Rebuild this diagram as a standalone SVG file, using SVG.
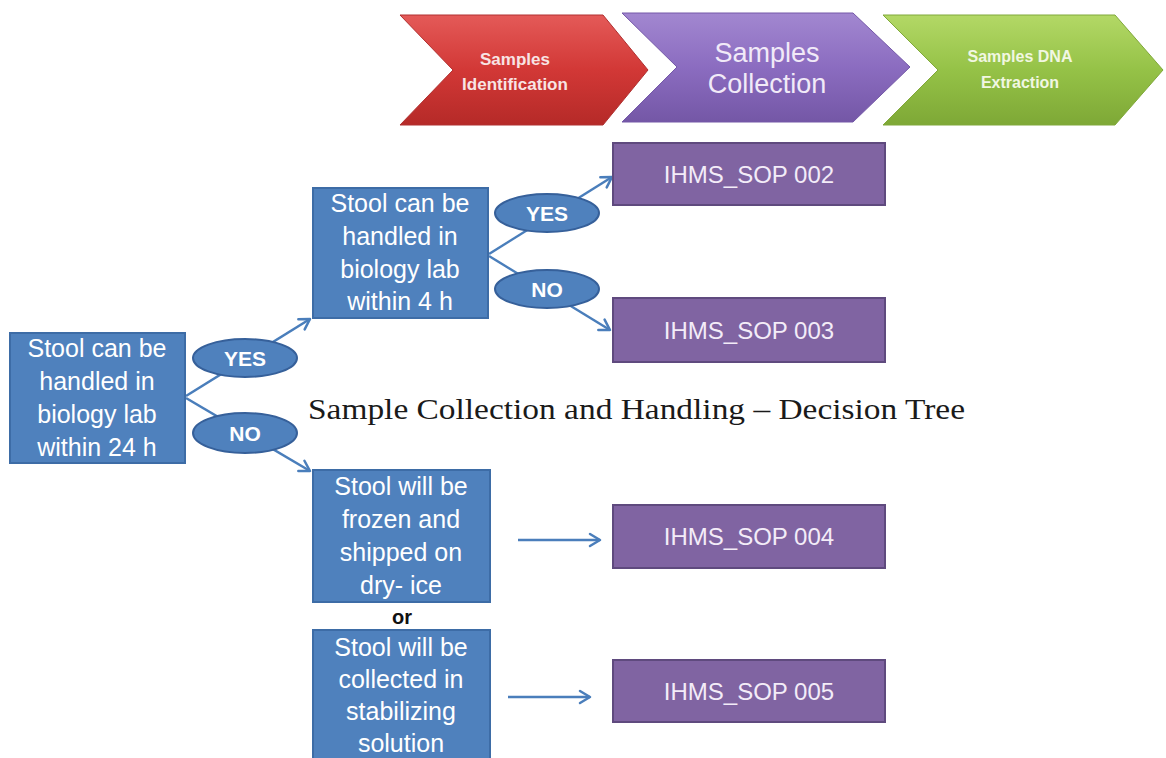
<svg xmlns="http://www.w3.org/2000/svg" width="1166" height="758" viewBox="0 0 1166 758">
<defs>
<linearGradient id="gRed" x1="0" y1="0" x2="0" y2="1">
<stop offset="0" stop-color="#e45a58"/><stop offset="0.5" stop-color="#d23836"/><stop offset="1" stop-color="#b52a28"/>
</linearGradient>
<linearGradient id="gPur" x1="0" y1="0" x2="0" y2="1">
<stop offset="0" stop-color="#a287d0"/><stop offset="0.5" stop-color="#8b6cc0"/><stop offset="1" stop-color="#7457a6"/>
</linearGradient>
<linearGradient id="gGrn" x1="0" y1="0" x2="0" y2="1">
<stop offset="0" stop-color="#b3d866"/><stop offset="0.5" stop-color="#95c247"/><stop offset="1" stop-color="#7ea836"/>
</linearGradient>
<marker id="arr" markerUnits="userSpaceOnUse" markerWidth="16" markerHeight="16" refX="12" refY="8" orient="auto">
<path d="M2,2 L12,8 L2,14" fill="none" stroke="#4a7ebb" stroke-width="2.5" stroke-linecap="round" stroke-linejoin="round"/>
</marker>
<style>
.bbox{fill:#4f81bd;stroke:#3d6ca6;stroke-width:2}
.pbox{fill:#8064a2;stroke:#5f4a7e;stroke-width:2}
.ell{fill:#4f81bd;stroke:#36609a;stroke-width:2}
.bt{font-family:"Liberation Sans",Arial,sans-serif;font-size:25px;fill:#ffffff;text-anchor:middle}
.pt{font-family:"Liberation Sans",Arial,sans-serif;font-size:24px;fill:#f3ecf8;text-anchor:middle}
.et{font-family:"Liberation Sans",Arial,sans-serif;font-size:21px;font-weight:bold;fill:#ffffff;text-anchor:middle}
.ct{font-family:"Liberation Sans",Arial,sans-serif;text-anchor:middle}
.conn{fill:none;stroke:#4a7ebb;stroke-width:2.5}
</style>
</defs>
<rect width="1166" height="758" fill="#ffffff"/>

<g id="chev-identification">
<polygon points="400,15 603,15 648,70 603,125 400,125 453,70" fill="url(#gRed)" stroke="#b03030" stroke-width="1"/>
<text class="ct" x="515" y="65" font-size="17" font-weight="bold" fill="#f8e4e4">Samples</text>
<text class="ct" x="515" y="90" font-size="17" font-weight="bold" fill="#f8e4e4">Identification</text>
</g>
<g id="chev-collection">
<polygon points="622,13 853,13 910,67 853,122 622,122 677,67" fill="url(#gPur)" stroke="#7458a8" stroke-width="1"/>
<text class="ct" x="767" y="62" font-size="27" fill="#f1eaf8">Samples</text>
<text class="ct" x="767" y="93" font-size="27" fill="#f1eaf8">Collection</text>
</g>
<g id="chev-extraction">
<polygon points="883,15 1115,15 1163,70 1115,125 883,125 938,70" fill="url(#gGrn)" stroke="#80a83a" stroke-width="1"/>
<text class="ct" x="1020" y="62" font-size="16" font-weight="bold" fill="#f1f7e2">Samples DNA</text>
<text class="ct" x="1020" y="88" font-size="16" font-weight="bold" fill="#f1f7e2">Extraction</text>
</g>

<g id="connectors">
<line class="conn" x1="186" y1="396" x2="310" y2="319" marker-end="url(#arr)"/>
<line class="conn" x1="186" y1="398" x2="310" y2="471" marker-end="url(#arr)"/>
<line class="conn" x1="489" y1="254" x2="612" y2="177" marker-end="url(#arr)"/>
<line class="conn" x1="489" y1="256" x2="610" y2="330" marker-end="url(#arr)"/>
<line class="conn" x1="518" y1="540" x2="600" y2="540" marker-end="url(#arr)"/>
<line class="conn" x1="508" y1="697" x2="590" y2="697" marker-end="url(#arr)"/>
</g>

<g id="box-24h">
<rect class="bbox" x="10" y="333" width="175" height="130"/>
<text class="bt" x="97" y="357">Stool can be</text>
<text class="bt" x="97" y="390">handled in</text>
<text class="bt" x="97" y="423">biology lab</text>
<text class="bt" x="97" y="456">within  24 h</text>
</g>
<g id="yes-1">
<ellipse class="ell" cx="245" cy="358" rx="52" ry="19"/>
<text class="et" x="245" y="366">YES</text>
</g>
<g id="no-1">
<ellipse class="ell" cx="245" cy="433" rx="52" ry="20"/>
<text class="et" x="245" y="441">NO</text>
</g>

<g id="box-4h">
<rect class="bbox" x="313" y="188" width="175" height="130"/>
<text class="bt" x="400" y="212">Stool can be</text>
<text class="bt" x="400" y="245">handled in</text>
<text class="bt" x="400" y="278">biology lab</text>
<text class="bt" x="400" y="310">within  4 h</text>
</g>
<g id="yes-2">
<ellipse class="ell" cx="547" cy="213" rx="52" ry="19"/>
<text class="et" x="547" y="221">YES</text>
</g>
<g id="no-2">
<ellipse class="ell" cx="547" cy="289" rx="52" ry="19"/>
<text class="et" x="547" y="297">NO</text>
</g>

<g id="sop002">
<rect class="pbox" x="613" y="143" width="272" height="62"/>
<text class="pt" x="749" y="183">IHMS_SOP 002</text>
</g>
<g id="sop003">
<rect class="pbox" x="613" y="298" width="272" height="64"/>
<text class="pt" x="749" y="339">IHMS_SOP 003</text>
</g>

<g id="title">
<text x="308" y="419" font-family="'Liberation Serif','Times New Roman',serif" font-size="29" fill="#1a1a1a" textLength="657" lengthAdjust="spacingAndGlyphs">Sample Collection and Handling – Decision Tree</text>
</g>

<g id="box-frozen">
<rect class="bbox" x="313" y="470" width="177" height="132"/>
<text class="bt" x="401" y="495">Stool will be</text>
<text class="bt" x="401" y="528">frozen and</text>
<text class="bt" x="401" y="561">shipped on</text>
<text class="bt" x="401" y="594">dry- ice</text>
</g>
<g id="or-label">
<text x="402" y="624" font-family="'Liberation Sans',Arial,sans-serif" font-size="20" font-weight="bold" fill="#111111" text-anchor="middle">or</text>
</g>
<g id="box-stabilizing">
<rect class="bbox" x="313" y="630" width="177" height="140"/>
<text class="bt" x="401" y="656">Stool will be</text>
<text class="bt" x="401" y="688">collected in</text>
<text class="bt" x="401" y="720">stabilizing</text>
<text class="bt" x="401" y="752">solution</text>
</g>

<g id="sop004">
<rect class="pbox" x="613" y="505" width="272" height="63"/>
<text class="pt" x="749" y="545">IHMS_SOP 004</text>
</g>
<g id="sop005">
<rect class="pbox" x="613" y="660" width="272" height="62"/>
<text class="pt" x="749" y="700">IHMS_SOP 005</text>
</g>
</svg>
